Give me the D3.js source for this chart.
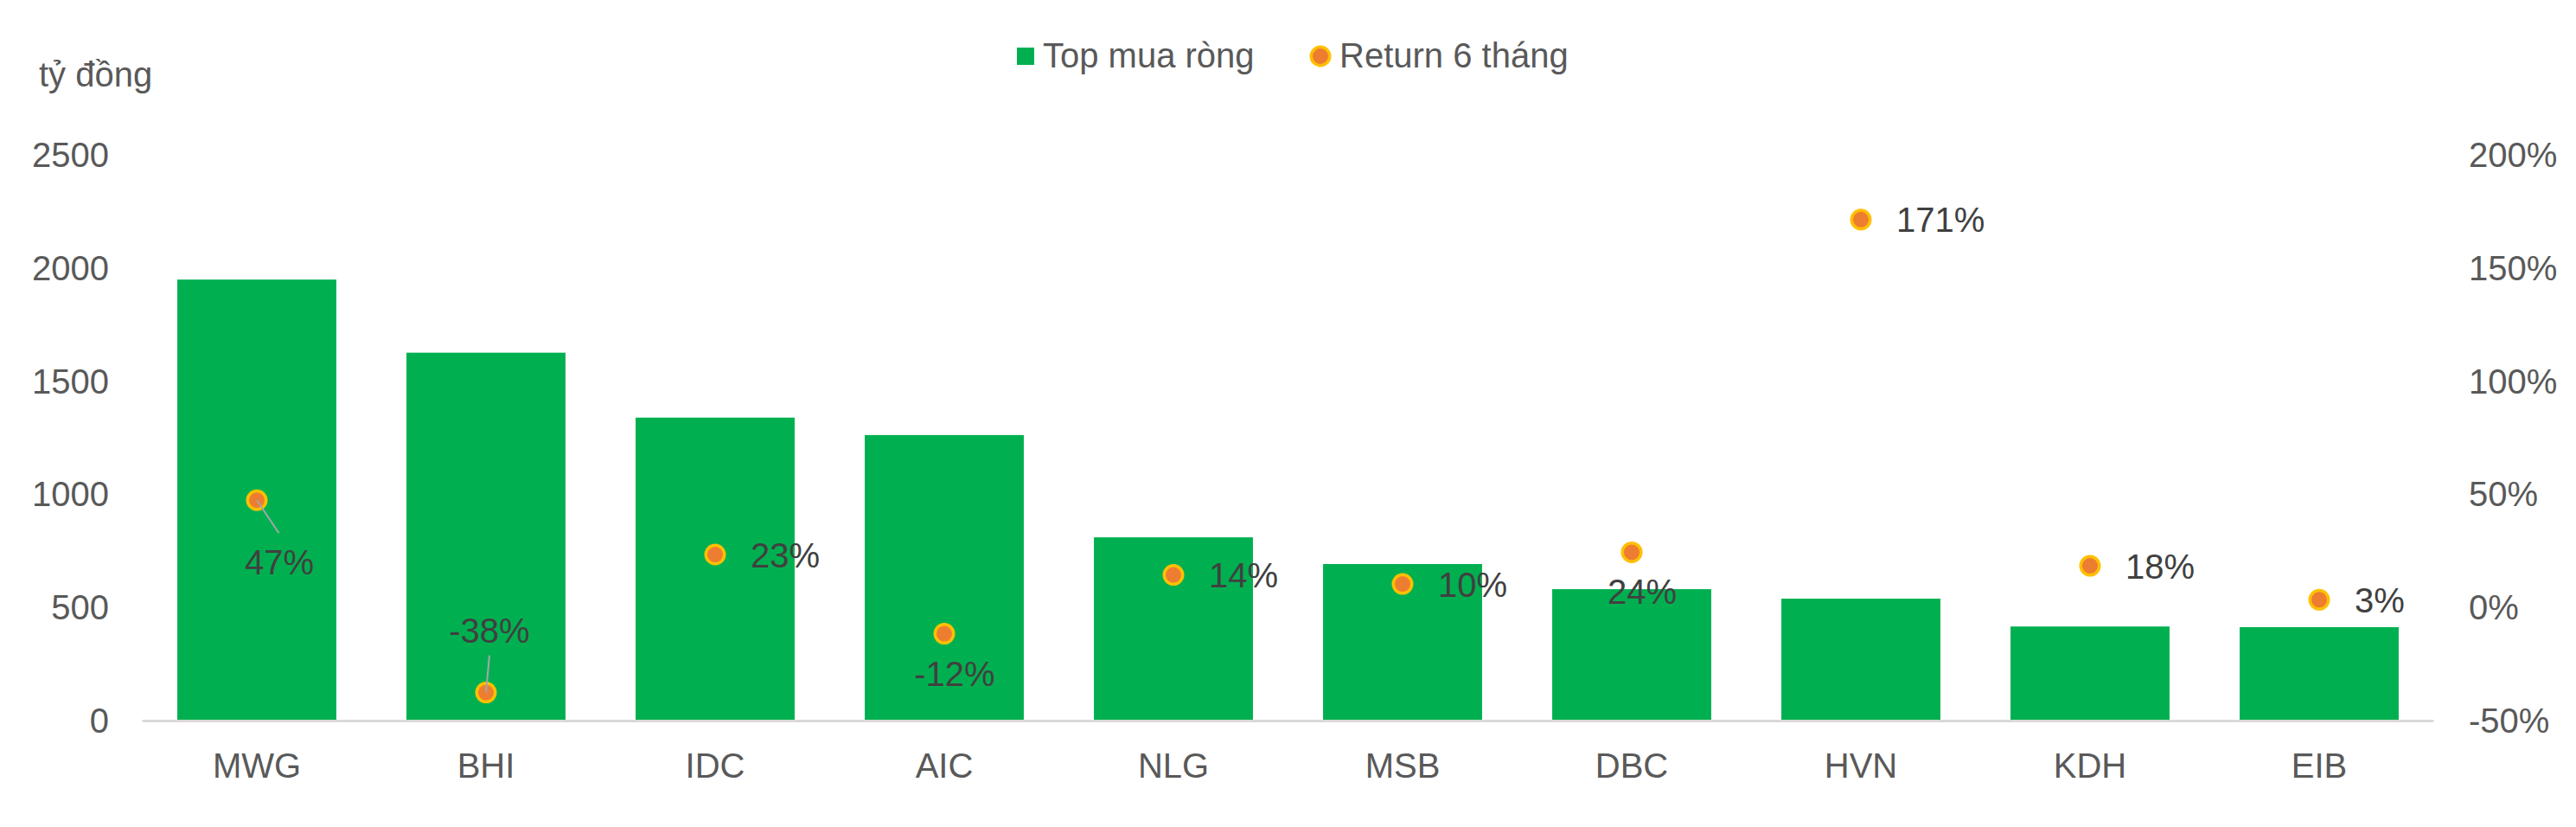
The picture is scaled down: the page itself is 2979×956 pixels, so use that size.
<!DOCTYPE html>
<html>
<head>
<meta charset="utf-8">
<script src="https://cdn.jsdelivr.net/npm/d3@7"></script>
<style>
  html, body { margin: 0; padding: 0; background: #ffffff; }
  svg { display: block; font-family: "Liberation Sans", Arial, Helvetica, sans-serif; }
</style>
</head>
<body>
<svg id="chart" width="2979" height="956"></svg>
<script>
// ---- Data ----
const categories = ["MWG", "BHI", "IDC", "AIC", "NLG", "MSB", "DBC", "HVN", "KDH", "EIB"];
const netBuy = [1945, 1622, 1335, 1258, 806, 688, 577, 535, 412, 409];          // tỷ đồng
const return6m = [0.47, -0.38, 0.23, -0.12, 0.14, 0.10, 0.24, 1.71, 0.18, 0.03];
const labelPlace = ["leaderBelow", "leaderAbove", "right", "below", "right", "right", "below", "right", "right", "right"];
const leftTicks = [0, 500, 1000, 1500, 2000, 2500];
const rightTicks = [-0.5, 0, 0.5, 1.0, 1.5, 2.0];
const seriesNames = ["Top mua ròng", "Return 6 tháng"];
const yTitle = "tỷ đồng";

// ---- Layout ----
const svg = d3.select("#chart");
const plot = { left: 164.5, right: 2814.5, top: 178, bottom: 832 };
const green = "#00B050", orange = "#ED7D31", ring = "#FFC000";
const axisText = "#595959", labelText = "#404040";
const fs = 40;

const pct = d3.formatLocale({ decimal: ".", thousands: ",", grouping: [3], currency: ["", ""], minus: "-" }).format(".0%");

const x = d3.scaleBand().domain(categories).range([plot.left, plot.right])
  .paddingInner(0.306).paddingOuter(0.153);
const yL = d3.scaleLinear().domain([0, 2500]).range([plot.bottom, plot.top]);
const yR = d3.scaleLinear().domain([-0.5, 2.0]).range([plot.bottom, plot.top]);

// Left axis
const leftAxis = d3.axisLeft(yL).tickValues(leftTicks).tickSize(0).tickPadding(0).tickFormat(d3.format("d"));
const gL = svg.append("g").attr("transform", "translate(126,0)").call(leftAxis);
gL.select(".domain").remove();
gL.selectAll("text").attr("font-size", fs).attr("fill", axisText).attr("font-family", null).attr("dy", "0.36em");

// Right axis
const rightAxis = d3.axisRight(yR).tickValues(rightTicks).tickSize(0).tickPadding(0).tickFormat(pct);
const gR = svg.append("g").attr("transform", "translate(2855,0)").call(rightAxis);
gR.select(".domain").remove();
gR.selectAll("text").attr("font-size", fs).attr("fill", axisText).attr("font-family", null).attr("dy", "0.36em");

// Bars
svg.append("g").selectAll("rect").data(categories).join("rect")
  .attr("x", d => x(d))
  .attr("y", (d, i) => yL(netBuy[i]))
  .attr("width", x.bandwidth())
  .attr("height", (d, i) => yL(0) - yL(netBuy[i]))
  .attr("fill", green);

// Category axis
const bottomAxis = d3.axisBottom(x).tickSize(0).tickPadding(0);
const gB = svg.append("g").attr("transform", `translate(0,${plot.bottom})`).call(bottomAxis);
gB.select(".domain").attr("stroke", "#D9D9D9").attr("stroke-width", 3)
  .attr("d", `M${plot.left},1.5H${plot.right}`);
gB.selectAll("text").attr("font-size", fs).attr("fill", axisText).attr("font-family", null)
  .attr("dy", null).attr("y", 67);

// Points
const cx = i => x(categories[i]) + x.bandwidth() / 2;
const cy = i => yR(return6m[i]);
const pts = svg.append("g");
pts.selectAll("circle").data(return6m).join("circle")
  .attr("cx", (d, i) => cx(i)).attr("cy", (d, i) => cy(i))
  .attr("r", 10.75).attr("fill", orange).attr("stroke", ring).attr("stroke-width", 3.5);

// Leader lines + labels
const lab = svg.append("g").attr("font-size", fs).attr("fill", labelText);
return6m.forEach((v, i) => {
  const px = cx(i), py = cy(i);
  const place = labelPlace[i];
  let tx, ty, anchor = "middle";
  if (place === "right") { tx = px + 41; ty = py + 14.5; anchor = "start"; }
  else if (place === "below") { tx = px + 12; ty = py + 60; }
  else if (place === "leaderBelow") {
    svg.append("line").attr("x1", px).attr("y1", py).attr("x2", px + 25.5).attr("y2", py + 38)
      .attr("stroke", "#A6A6A6").attr("stroke-width", 2);
    tx = px + 26; ty = py + 86;
  } else if (place === "leaderAbove") {
    svg.append("line").attr("x1", px).attr("y1", py).attr("x2", px + 4).attr("y2", py - 43)
      .attr("stroke", "#A6A6A6").attr("stroke-width", 2);
    tx = px + 4; ty = py - 58;
  }
  lab.append("text").attr("x", tx).attr("y", ty).attr("text-anchor", anchor).text(pct(v));
});

// Y title
svg.append("text").attr("x", 45).attr("y", 100).attr("font-size", fs).attr("fill", axisText).text(yTitle);

// Legend
const lg = svg.append("g").attr("font-size", fs).attr("fill", axisText);
lg.append("rect").attr("x", 1176).attr("y", 55).attr("width", 20).attr("height", 20).attr("fill", green);
lg.append("text").attr("x", 1206).attr("y", 78).text(seriesNames[0]);
lg.append("circle").attr("cx", 1527).attr("cy", 65).attr("r", 10.75).attr("fill", orange)
  .attr("stroke", ring).attr("stroke-width", 3.5);
lg.append("text").attr("x", 1549).attr("y", 78).text(seriesNames[1]);
</script>
</body>
</html>
